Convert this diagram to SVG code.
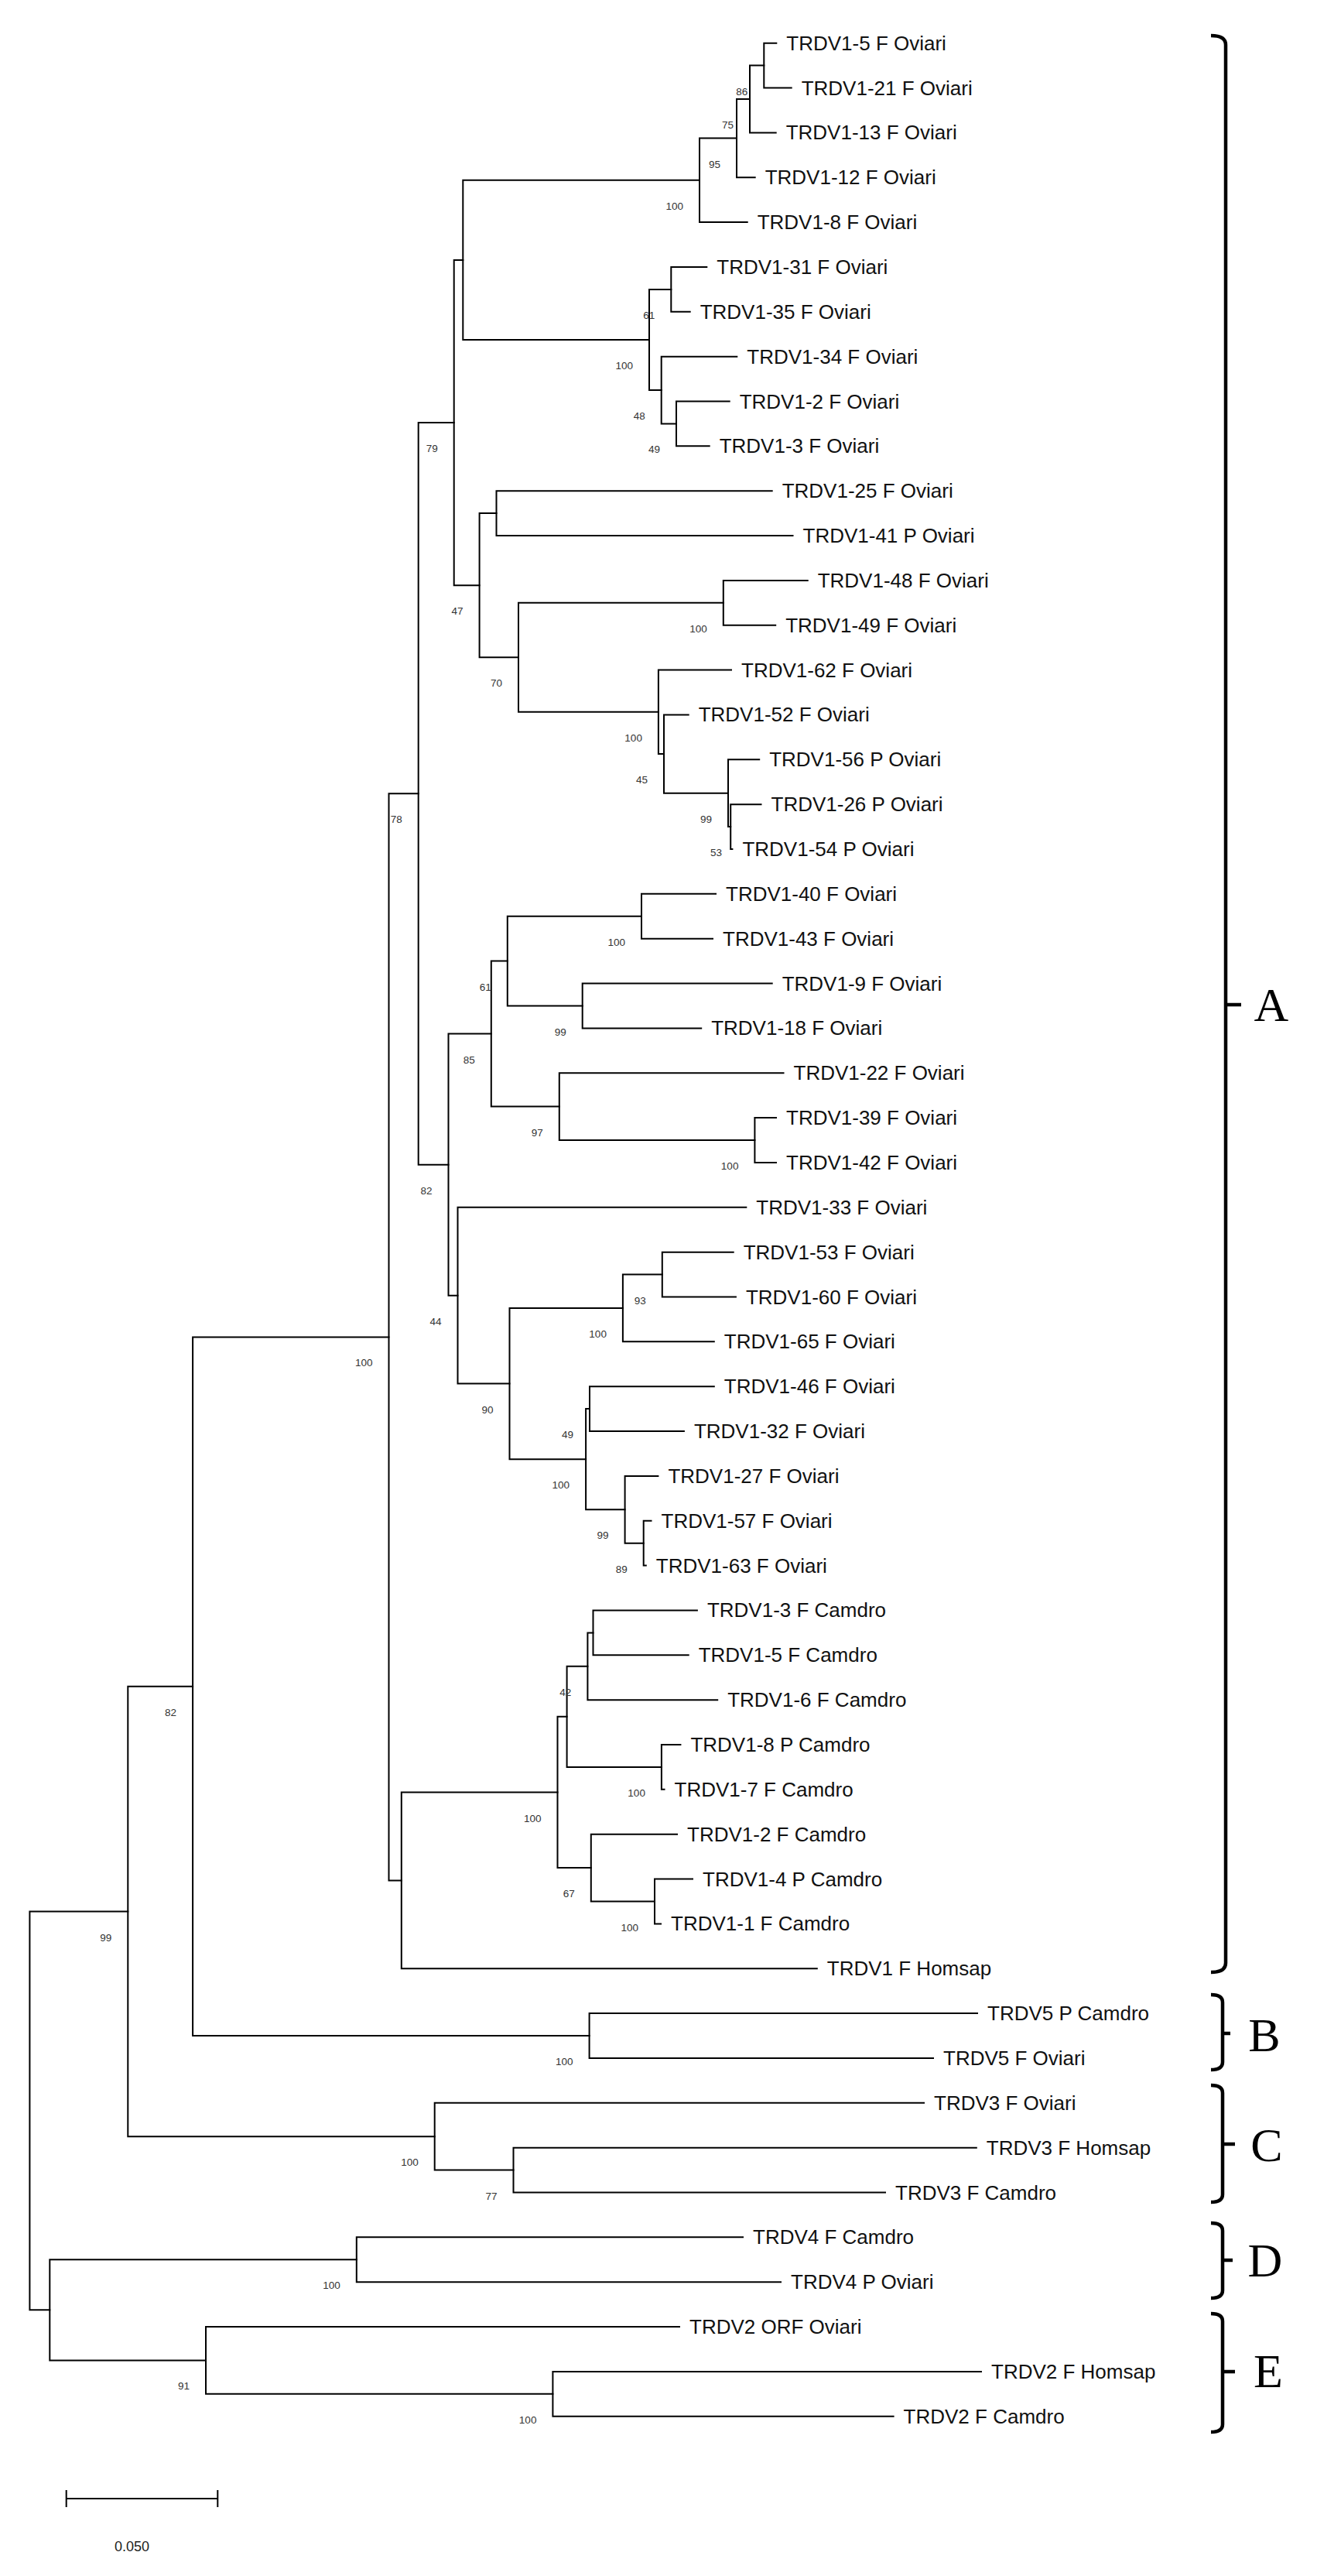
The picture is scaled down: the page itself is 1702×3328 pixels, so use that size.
<svg xmlns="http://www.w3.org/2000/svg" width="1702" height="3328" viewBox="0 0 1702 3328">
<style>
.br{fill:none;stroke:#000;stroke-width:2;stroke-linecap:square;stroke-linejoin:miter}
.lf{font-family:"Liberation Sans",Arial,sans-serif;font-size:26px;fill:#111}
.bs{font-family:"Liberation Sans",Arial,sans-serif;font-size:13.5px;fill:#333;text-anchor:end}
.bc{fill:none;stroke:#000;stroke-width:4.5;stroke-linecap:butt}
.cl{font-family:"Liberation Serif","Times New Roman",serif;font-size:62px;fill:#000;text-anchor:middle}
.sc{font-family:"Liberation Sans",Arial,sans-serif;font-size:18px;fill:#222;text-anchor:middle}
</style>
<rect width="1702" height="3328" fill="#fff"/>
<g id="connectors" class="br">
<path d="M1003.3 55.7H987.3V113.55H1022.7"/>
<path d="M987.3 84.6H969V171.4H1002.7"/>
<path d="M969 128H952V229.25H975.7"/>
<path d="M952 178.6H904V287.1H965.7"/>
<path d="M913.3 344.95H867.3V402.8H891.7"/>
<path d="M942.7 518.5H874V576.35H916.7"/>
<path d="M952.3 460.65H854.7V547.4H874"/>
<path d="M867.3 373.9H839V504H854.7"/>
<path d="M904 232.85H598.3V439H839"/>
<path d="M997.7 634.2H641.5V692.05H1024.5"/>
<path d="M1043.7 749.9H934.8V807.75H1002.2"/>
<path d="M983.5 1039.15H944.2V1097H946.4"/>
<path d="M981.2 981.3H941V1068.1H944.2"/>
<path d="M889.7 923.45H858V1024.7H941"/>
<path d="M945 865.6H850.9V974.1H858"/>
<path d="M934.8 778.8H670V919.85H850.9"/>
<path d="M641.5 663.1H619.6V849.3H670"/>
<path d="M598.3 335.9H586.7V756.2H619.6"/>
<path d="M925 1154.85H829V1212.7H921"/>
<path d="M997.7 1270.55H752.7V1328.4H906.2"/>
<path d="M829 1183.8H655.8V1299.5H752.7"/>
<path d="M1003 1444.1H975.4V1501.95H1003"/>
<path d="M1012.5 1386.25H722.8V1473H975.4"/>
<path d="M655.8 1241.6H634.8V1429.6H722.8"/>
<path d="M947.7 1617.65H855.8V1675.5H950.9"/>
<path d="M855.8 1646.6H804.9V1733.35H922.8"/>
<path d="M922.8 1791.2H762V1849.05H883.9"/>
<path d="M841.5 1964.75H831.7V2022.6H834.8"/>
<path d="M850.4 1906.9H807.6V1993.7H831.7"/>
<path d="M762 1820.1H757.1V1950.3H807.6"/>
<path d="M804.9 1690H658.5V1885.2H757.1"/>
<path d="M964.3 1559.8H591.5V1787.6H658.5"/>
<path d="M634.8 1335.6H579.5V1673.7H591.5"/>
<path d="M586.7 546.05H540.7V1504.65H579.5"/>
<path d="M900.9 2080.45H766.5V2138.3H889.7"/>
<path d="M766.5 2109.4H759.4V2196.15H927.2"/>
<path d="M879.4 2254H854.9V2311.85H858.5"/>
<path d="M759.4 2152.8H732.6V2282.9H854.9"/>
<path d="M895 2427.55H846V2485.4H854"/>
<path d="M875 2369.7H763.8V2456.5H846"/>
<path d="M732.6 2217.85H720.5V2413.1H763.8"/>
<path d="M720.5 2315.5H518.8V2543.25H1055.8"/>
<path d="M540.7 1025.35H502.5V2429.4H518.8"/>
<path d="M1263 2601.1H761.6V2658.95H1206"/>
<path d="M502.5 1727.4H249.1V2630H761.6"/>
<path d="M1261.8 2774.65H663.5V2832.5H1144"/>
<path d="M1194 2716.8H561.7V2803.6H663.5"/>
<path d="M249.1 2178.7H165.3V2760.2H561.7"/>
<path d="M960 2890.35H460.8V2948.2H1009"/>
<path d="M1268 3063.9H714.4V3121.75H1154.6"/>
<path d="M878 3006.05H266V3092.8H714.4"/>
<path d="M460.8 2919.3H64.3V3049.4H266"/>
<path d="M165.3 2469.5H38.4V2984.35H64.3"/>
</g>
<g id="leaves" class="lf">
<g id="leaf-1"><text x="1016.3" y="64.7">TRDV1-5 F Oviari</text></g>
<g id="leaf-2"><text x="1035.7" y="122.55">TRDV1-21 F Oviari</text></g>
<g id="leaf-3"><text x="1015.7" y="180.4">TRDV1-13 F Oviari</text></g>
<g id="leaf-4"><text x="988.7" y="238.25">TRDV1-12 F Oviari</text></g>
<g id="leaf-5"><text x="978.7" y="296.1">TRDV1-8 F Oviari</text></g>
<g id="leaf-6"><text x="926.3" y="353.95">TRDV1-31 F Oviari</text></g>
<g id="leaf-7"><text x="904.7" y="411.8">TRDV1-35 F Oviari</text></g>
<g id="leaf-8"><text x="965.3" y="469.65">TRDV1-34 F Oviari</text></g>
<g id="leaf-9"><text x="955.7" y="527.5">TRDV1-2 F Oviari</text></g>
<g id="leaf-10"><text x="929.7" y="585.35">TRDV1-3 F Oviari</text></g>
<g id="leaf-11"><text x="1010.7" y="643.2">TRDV1-25 F Oviari</text></g>
<g id="leaf-12"><text x="1037.5" y="701.05">TRDV1-41 P Oviari</text></g>
<g id="leaf-13"><text x="1056.7" y="758.9">TRDV1-48 F Oviari</text></g>
<g id="leaf-14"><text x="1015.2" y="816.75">TRDV1-49 F Oviari</text></g>
<g id="leaf-15"><text x="958" y="874.6">TRDV1-62 F Oviari</text></g>
<g id="leaf-16"><text x="902.7" y="932.45">TRDV1-52 F Oviari</text></g>
<g id="leaf-17"><text x="994.2" y="990.3">TRDV1-56 P Oviari</text></g>
<g id="leaf-18"><text x="996.5" y="1048.15">TRDV1-26 P Oviari</text></g>
<g id="leaf-19"><text x="959.4" y="1106">TRDV1-54 P Oviari</text></g>
<g id="leaf-20"><text x="938" y="1163.85">TRDV1-40 F Oviari</text></g>
<g id="leaf-21"><text x="934" y="1221.7">TRDV1-43 F Oviari</text></g>
<g id="leaf-22"><text x="1010.7" y="1279.55">TRDV1-9 F Oviari</text></g>
<g id="leaf-23"><text x="919.2" y="1337.4">TRDV1-18 F Oviari</text></g>
<g id="leaf-24"><text x="1025.5" y="1395.25">TRDV1-22 F Oviari</text></g>
<g id="leaf-25"><text x="1016" y="1453.1">TRDV1-39 F Oviari</text></g>
<g id="leaf-26"><text x="1016" y="1510.95">TRDV1-42 F Oviari</text></g>
<g id="leaf-27"><text x="977.3" y="1568.8">TRDV1-33 F Oviari</text></g>
<g id="leaf-28"><text x="960.7" y="1626.65">TRDV1-53 F Oviari</text></g>
<g id="leaf-29"><text x="963.9" y="1684.5">TRDV1-60 F Oviari</text></g>
<g id="leaf-30"><text x="935.8" y="1742.35">TRDV1-65 F Oviari</text></g>
<g id="leaf-31"><text x="935.8" y="1800.2">TRDV1-46 F Oviari</text></g>
<g id="leaf-32"><text x="896.9" y="1858.05">TRDV1-32 F Oviari</text></g>
<g id="leaf-33"><text x="863.4" y="1915.9">TRDV1-27 F Oviari</text></g>
<g id="leaf-34"><text x="854.5" y="1973.75">TRDV1-57 F Oviari</text></g>
<g id="leaf-35"><text x="847.8" y="2031.6">TRDV1-63 F Oviari</text></g>
<g id="leaf-36"><text x="913.9" y="2089.45">TRDV1-3 F Camdro</text></g>
<g id="leaf-37"><text x="902.7" y="2147.3">TRDV1-5 F Camdro</text></g>
<g id="leaf-38"><text x="940.2" y="2205.15">TRDV1-6 F Camdro</text></g>
<g id="leaf-39"><text x="892.4" y="2263">TRDV1-8 P Camdro</text></g>
<g id="leaf-40"><text x="871.5" y="2320.85">TRDV1-7 F Camdro</text></g>
<g id="leaf-41"><text x="888" y="2378.7">TRDV1-2 F Camdro</text></g>
<g id="leaf-42"><text x="908" y="2436.55">TRDV1-4 P Camdro</text></g>
<g id="leaf-43"><text x="867" y="2494.4">TRDV1-1 F Camdro</text></g>
<g id="leaf-44"><text x="1068.8" y="2552.25">TRDV1 F Homsap</text></g>
<g id="leaf-45"><text x="1276" y="2610.1">TRDV5 P Camdro</text></g>
<g id="leaf-46"><text x="1219" y="2667.95">TRDV5 F Oviari</text></g>
<g id="leaf-47"><text x="1207" y="2725.8">TRDV3 F Oviari</text></g>
<g id="leaf-48"><text x="1274.8" y="2783.65">TRDV3 F Homsap</text></g>
<g id="leaf-49"><text x="1157" y="2841.5">TRDV3 F Camdro</text></g>
<g id="leaf-50"><text x="973" y="2899.35">TRDV4 F Camdro</text></g>
<g id="leaf-51"><text x="1022" y="2957.2">TRDV4 P Oviari</text></g>
<g id="leaf-52"><text x="891" y="3015.05">TRDV2 ORF Oviari</text></g>
<g id="leaf-53"><text x="1281" y="3072.9">TRDV2 F Homsap</text></g>
<g id="leaf-54"><text x="1167.6" y="3130.75">TRDV2 F Camdro</text></g>
</g>
<g id="bootstrap" class="bs">
<g id="n1"><text x="966.3" y="122.6">86</text></g>
<g id="n2"><text x="948" y="166">75</text></g>
<g id="n3"><text x="931" y="216.6">95</text></g>
<g id="n4"><text x="883" y="270.85">100</text></g>
<g id="n5"><text x="846.3" y="411.9">61</text></g>
<g id="n6"><text x="853" y="585.4">49</text></g>
<g id="n7"><text x="833.7" y="542">48</text></g>
<g id="n8"><text x="818" y="477">100</text></g>
<g id="n11"><text x="913.8" y="816.8">100</text></g>
<g id="n13"><text x="933" y="1106.1">53</text></g>
<g id="n12"><text x="920" y="1062.7">99</text></g>
<g id="n14"><text x="837" y="1012.1">45</text></g>
<g id="n15"><text x="829.9" y="957.85">100</text></g>
<g id="n16"><text x="649" y="887.3">70</text></g>
<g id="n17"><text x="598.6" y="794.2">47</text></g>
<g id="n18"><text x="565.7" y="584.05">79</text></g>
<g id="n19"><text x="808" y="1221.8">100</text></g>
<g id="n20"><text x="731.7" y="1337.5">99</text></g>
<g id="n21"><text x="634.8" y="1279.6">61</text></g>
<g id="n22"><text x="954.4" y="1511">100</text></g>
<g id="n23"><text x="701.8" y="1467.6">97</text></g>
<g id="n24"><text x="613.8" y="1373.6">85</text></g>
<g id="n25"><text x="834.8" y="1684.6">93</text></g>
<g id="n26"><text x="783.9" y="1728">100</text></g>
<g id="n27"><text x="741" y="1858.1">49</text></g>
<g id="n28"><text x="810.7" y="2031.7">89</text></g>
<g id="n29"><text x="786.6" y="1988.3">99</text></g>
<g id="n30"><text x="736.1" y="1923.2">100</text></g>
<g id="n31"><text x="637.5" y="1825.6">90</text></g>
<g id="n32"><text x="570.5" y="1711.7">44</text></g>
<g id="n33"><text x="558.5" y="1542.65">82</text></g>
<g id="n34"><text x="519.7" y="1063.35">78</text></g>
<g id="n36"><text x="738.4" y="2190.8">42</text></g>
<g id="n38"><text x="833.9" y="2320.9">100</text></g>
<g id="n41"><text x="825" y="2494.5">100</text></g>
<g id="n40"><text x="742.8" y="2451.1">67</text></g>
<g id="n39"><text x="699.5" y="2353.5">100</text></g>
<g id="n43"><text x="481.5" y="1765.4">100</text></g>
<g id="n44"><text x="740.6" y="2668">100</text></g>
<g id="n45"><text x="228.1" y="2216.7">82</text></g>
<g id="n48"><text x="642.5" y="2841.6">77</text></g>
<g id="n49"><text x="540.7" y="2798.2">100</text></g>
<g id="n46"><text x="144.3" y="2507.5">99</text></g>
<g id="n50"><text x="439.8" y="2957.3">100</text></g>
<g id="n51"><text x="693.4" y="3130.8">100</text></g>
<g id="n52"><text x="245" y="3087.4">91</text></g>
</g>
<g id="brace-A">
<path class="bc" d="M1565 46Q1584 46 1584 58V2536Q1584 2548 1565 2548M1584 1298H1604"/>
<text class="cl" x="1643" y="1319">A</text>
</g>
<g id="brace-B">
<path class="bc" d="M1565 2577Q1580 2577 1580 2587V2664Q1580 2674 1565 2674M1580 2627H1590"/>
<text class="cl" x="1634" y="2650">B</text>
</g>
<g id="brace-C">
<path class="bc" d="M1565 2694Q1580 2694 1580 2704V2835Q1580 2845 1565 2845M1580 2770H1596"/>
<text class="cl" x="1637" y="2792">C</text>
</g>
<g id="brace-D">
<path class="bc" d="M1565 2872Q1580 2872 1580 2882V2959Q1580 2969 1565 2969M1580 2920H1593"/>
<text class="cl" x="1635" y="2941">D</text>
</g>
<g id="brace-E">
<path class="bc" d="M1565 2989Q1580 2989 1580 2999V3132Q1580 3142 1565 3142M1580 3064H1596"/>
<text class="cl" x="1639" y="3084">E</text>
</g>
<g id="scale-bar">
<path class="br" d="M85.7 3228H281.3M85.7 3218V3238M281.3 3218V3238"/>
<text class="sc" x="170.5" y="3296">0.050</text>
</g>
</svg>
